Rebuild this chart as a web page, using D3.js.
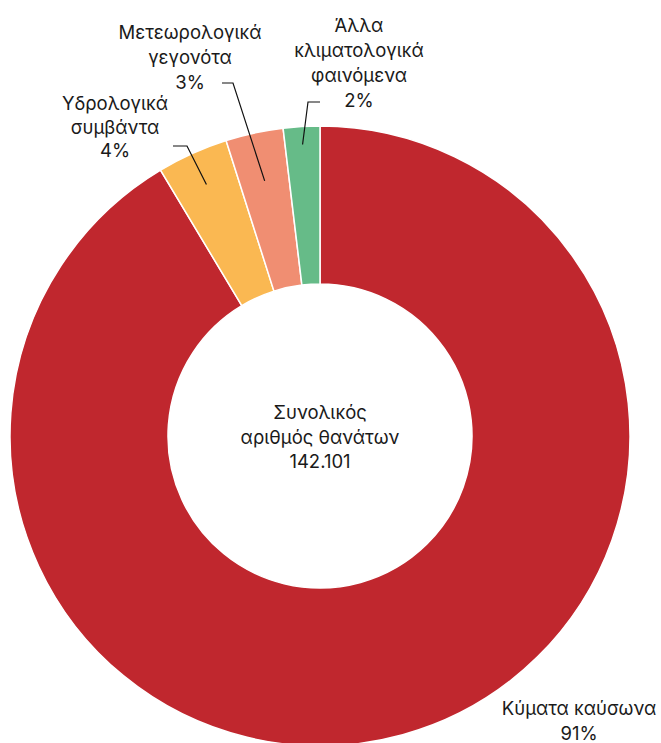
<!DOCTYPE html>
<html><head><meta charset="utf-8">
<script src="https://cdn.jsdelivr.net/npm/d3@7/dist/d3.min.js"></script>
<style>html,body{margin:0;padding:0;background:#fff;} svg{display:block;}</style>
</head><body>
<script>
const categories = ["Κύματα καύσωνα", "Υδρολογικά συμβάντα", "Μετεωρολογικά γεγονότα", "Άλλα κλιματολογικά φαινόμενα"];
const values = [129880, 5260, 4260, 2701];
const percentLabels = ["91%", "4%", "3%", "2%"];
const labelLines = [["Κύματα καύσωνα"], ["Υδρολογικά", "συμβάντα"], ["Μετεωρολογικά", "γεγονότα"], ["Άλλα", "κλιματολογικά", "φαινόμενα"]];
const colors = ["#C0272E", "#FAB852", "#F08E72", "#66BB88"];
const centerLines = ["Συνολικός", "αριθμός θανάτων", "142.101"];

const W = 661, H = 743;
const cx = 320, cy = 436, R = 310, r = 152;
const svg = d3.select("body").append("svg").attr("width", W).attr("height", H);
const g = svg.append("g").attr("transform", `translate(${cx},${cy})`);

const pie = d3.pie().sort(null).value(d => d)(values);
const arc = d3.arc().innerRadius(r).outerRadius(R);
g.selectAll("path").data(pie).join("path")
  .attr("d", arc).attr("fill", (d, i) => colors[i])
  .attr("stroke", "#fff").attr("stroke-width", 1.5);

const font = "Inter, 'Noto Sans', sans-serif";
const fs = 18.5;

const labelPos = [
  {x: 579, y: 715, lh: 25},
  {x: 115, y: 110, lh: 23.5},
  {x: 190, y: 39, lh: 25},
  {x: 359, y: 32, lh: 25}
];
labelPos.forEach((p, i) => {
  const lines = labelLines[i].concat([percentLabels[i]]);
  const t = svg.append("text").attr("text-anchor", "middle")
    .attr("font-family", font).attr("font-size", fs).attr("fill", "#1a1a1a");
  lines.forEach((l, j) => t.append("tspan").attr("x", p.x).attr("y", p.y + j * p.lh).text(l));
});

const leaders = [
  null,
  {start: [173, 146], elbow: [187, 146], rr: 276},
  {start: [222, 83], elbow: [233, 83], rr: 261},
  {start: [320, 102], elbow: [308, 102], rr: 292}
];
leaders.forEach((L, i) => {
  if (!L) return;
  const a = (pie[i].startAngle + pie[i].endAngle) / 2;
  const ex = cx + L.rr * Math.sin(a), ey = cy - L.rr * Math.cos(a);
  svg.append("polyline")
    .attr("points", [L.start, L.elbow, [ex, ey]].map(p => p.join(",")).join(" "))
    .attr("fill", "none").attr("stroke", "#111").attr("stroke-width", 1.2);
});

const ct = svg.append("text").attr("text-anchor", "middle")
  .attr("font-family", font).attr("font-size", fs).attr("fill", "#1a1a1a");
centerLines.forEach((l, j) => ct.append("tspan").attr("x", cx).attr("y", 419 + j * 24.5).text(l));
</script>
</body></html>
